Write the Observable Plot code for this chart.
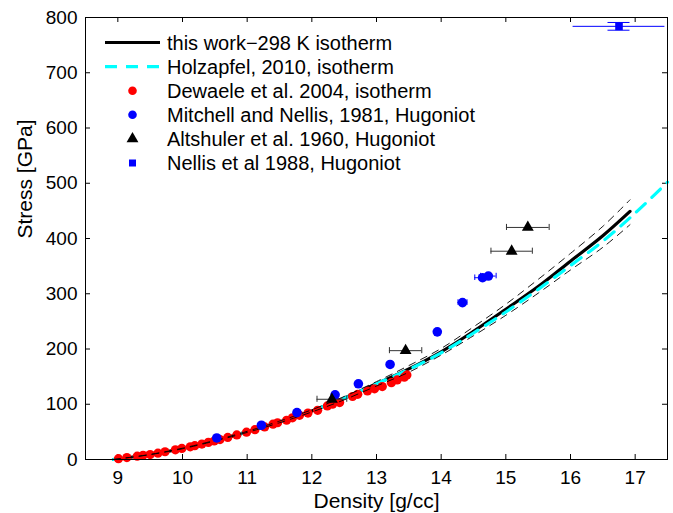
<!DOCTYPE html>
<html>
<head>
<meta charset="utf-8">
<script src="https://cdn.jsdelivr.net/npm/d3@7"></script>
<script src="https://cdn.jsdelivr.net/npm/@observablehq/plot@0.6"></script>
<style>
  html, body { margin: 0; padding: 0; background: white; }
  #wrap { position: relative; width: 673px; height: 513px; font-family: 'Liberation Sans', Arial, Helvetica, sans-serif; }
  #legend { position: absolute; left: 0; top: 0; }
</style>
</head>
<body>
<div id="wrap"></div>
<script>
// ---- Data ----
const xTicks = [9, 10, 11, 12, 13, 14, 15, 16, 17];
const yTicks = [0, 100, 200, 300, 400, 500, 600, 700, 800];

// this work - 298 K isotherm
const workDensity = [8.93, 9.0, 9.5, 10.0, 10.5, 11.0, 11.5, 12.0, 12.5, 13.0, 13.5, 14.0, 14.5, 15.0, 15.5, 16.0, 16.5, 16.92];
const workStress  = [0, 1, 9, 20, 34, 50, 68, 88, 111, 137, 164, 195, 232, 272, 313, 359, 405, 449];
const workUpper   = [0, 1, 9.2, 20.5, 34.6, 51, 69.5, 90, 114, 141, 170, 201, 240, 281, 326, 373, 422, 470];
const workLower   = [0, 1, 8.8, 19.5, 33.4, 49, 66.5, 86, 108, 133, 158, 189, 224, 261, 301, 343, 384, 425];

// Holzapfel 2010 isotherm
const holzDensity = [8.93, 9.0, 9.5, 10.0, 10.5, 11.0, 11.5, 12.0, 12.5, 13.0, 13.5, 14.0, 14.5, 15.0, 15.5, 16.0, 16.5, 17.0, 17.5];
const holzStress  = [0, 1, 9, 20, 34, 50, 68, 88, 111, 137, 163, 193, 229, 267, 308, 351, 395, 446, 502];

// Dewaele et al. 2004 isotherm
const dewDensity = [9.01, 9.14, 9.30, 9.39, 9.50, 9.62, 9.73, 9.89, 9.99, 10.12, 10.19, 10.30, 10.40, 10.49, 10.58, 10.70, 10.84, 10.99, 11.12, 11.27, 11.40, 11.47, 11.61, 11.70, 11.81, 11.94, 12.09, 12.24, 12.32, 12.43, 12.63, 12.71, 12.86, 12.97, 13.09, 13.23, 13.32, 13.43, 13.47];
const dewStress  = [1.5, 3.5, 6, 7.5, 9, 11.5, 14, 17.5, 20, 23, 25, 28, 31, 33.5, 36, 40, 44.5, 49.5, 54, 59, 64, 66.5, 71, 75.5, 80, 84, 89, 97, 100, 103, 114, 118, 124, 128, 132, 139, 144, 149, 153];

// Mitchell and Nellis 1981 Hugoniot
const mnDensity    = [10.53, 11.22, 11.77, 12.36, 12.72, 13.21, 13.94, 14.33, 14.64, 14.73];
const mnStress     = [39, 62, 85, 117, 137, 172, 231, 284, 329, 332];
const mnDensityErr = [0, 0, 0, 0, 0, 0, 0, 0.07, 0.12, 0.12];

// Altshuler et al. 1960 Hugoniot
const altDensity    = [12.31, 13.45, 15.09, 15.34];
const altStress     = [109, 197, 377, 420];
const altDensityErr = [0.23, 0.25, 0.32, 0.33];

// Nellis et al 1988 Hugoniot
const nelDensity    = [16.75];
const nelStress     = [784];
const nelDensityErr = [0.71];
const nelStressErr  = [7];

const legendLabels = [
  "this work\u2212298 K isotherm",
  "Holzapfel, 2010, isotherm",
  "Dewaele et al. 2004, isotherm",
  "Mitchell and Nellis, 1981, Hugoniot",
  "Altshuler et al. 1960, Hugoniot",
  "Nellis et al 1988, Hugoniot"
];

// ---- Build tables ----
const zip = (xs, ys) => xs.map((x, i) => ({x, y: ys[i]}));
const work = zip(workDensity, workStress);
const upper = zip(workDensity, workUpper);
const lower = zip(workDensity, workLower);
const holz = zip(holzDensity, holzStress);
const dew = zip(dewDensity, dewStress);
const mn = mnDensity.map((x, i) => ({x, y: mnStress[i], e: mnDensityErr[i]}));
const mnErr = mn.filter(d => d.e > 0);
const alt = altDensity.map((x, i) => ({x, y: altStress[i], e: altDensityErr[i]}));
const nel = nelDensity.map((x, i) => ({x, y: nelStress[i], e: nelDensityErr[i], ey: nelStressErr[i]}));

const W = 673, H = 513;
const mL = 85, mR = 6, mT = 17, mB = 54;
const innerW = W - mL - mR, innerH = H - mT - mB;
const tick = 5;
const RED = "#ff0000", BLUE = "#0000ff", CYAN = "#00ffff";

const chart = Plot.plot({
  width: W, height: H,
  marginLeft: mL, marginRight: mR, marginTop: mT, marginBottom: mB,
  style: {fontFamily: "'Liberation Sans', Arial, Helvetica, sans-serif", fontSize: "19px", color: "black", background: "white"},
  x: {domain: [8.5, 17.5], ticks: xTicks, tickSize: 0, tickPadding: 11, label: null, tickFormat: d => String(d)},
  y: {domain: [0, 800], ticks: yTicks, tickSize: 0, tickPadding: 8, label: null, tickFormat: d => String(d)},
  marks: [
    // inward tick marks on all four sides
    Plot.ruleX(xTicks, {x: d => d, stroke: "black", strokeWidth: 1, insetTop: innerH - tick}),
    Plot.ruleX(xTicks, {x: d => d, stroke: "black", strokeWidth: 1, insetBottom: innerH - tick}),
    Plot.ruleY(yTicks, {y: d => d, stroke: "black", strokeWidth: 1, insetRight: innerW - tick}),
    Plot.ruleY(yTicks, {y: d => d, stroke: "black", strokeWidth: 1, insetLeft: innerW - tick}),

    // curves
    Plot.line(work, {x: "x", y: "y", stroke: "black", strokeWidth: 3.2, curve: "catmull-rom"}),
    Plot.line(holz, {x: "x", y: "y", stroke: CYAN, strokeWidth: 3.2, strokeDasharray: "12,9", curve: "catmull-rom"}),

    // Dewaele
    Plot.dot(dew, {x: "x", y: "y", r: 4.6, fill: RED, stroke: "none"}),

    // uncertainty bounds
    Plot.line(upper, {x: "x", y: "y", stroke: "black", strokeWidth: 0.9, strokeDasharray: "7,6", curve: "catmull-rom"}),
    Plot.line(lower, {x: "x", y: "y", stroke: "black", strokeWidth: 0.9, strokeDasharray: "7,6", curve: "catmull-rom"}),

    // Mitchell & Nellis
    Plot.ruleY(mnErr, {y: "y", x1: d => d.x - d.e, x2: d => d.x + d.e, stroke: BLUE, strokeWidth: 1}),
    Plot.ruleX(mnErr, {x: d => d.x - d.e, y1: d => d.y - 5, y2: d => d.y + 5, stroke: BLUE, strokeWidth: 1}),
    Plot.ruleX(mnErr, {x: d => d.x + d.e, y1: d => d.y - 5, y2: d => d.y + 5, stroke: BLUE, strokeWidth: 1}),
    Plot.dot(mn, {x: "x", y: "y", r: 4.8, fill: BLUE, stroke: "none"}),

    // Altshuler
    Plot.ruleY(alt, {y: "y", x1: d => d.x - d.e, x2: d => d.x + d.e, stroke: "#333", strokeWidth: 1}),
    Plot.ruleX(alt, {x: d => d.x - d.e, y1: d => d.y - 5.5, y2: d => d.y + 5.5, stroke: "#333", strokeWidth: 1}),
    Plot.ruleX(alt, {x: d => d.x + d.e, y1: d => d.y - 5.5, y2: d => d.y + 5.5, stroke: "#333", strokeWidth: 1}),
    Plot.dot(alt, {x: "x", y: "y", r: 4.4, symbol: "triangle", fill: "black", stroke: "none"}),

    // Nellis 1988
    Plot.ruleY(nel, {y: "y", x1: d => d.x - d.e, x2: d => d.x + d.e, stroke: BLUE, strokeWidth: 1}),
    Plot.ruleX(nel, {x: "x", y1: d => d.y - d.ey, y2: d => d.y + d.ey, stroke: BLUE, strokeWidth: 1}),
    Plot.ruleY(nel, {y: d => d.y - d.ey, x1: d => d.x - 0.17, x2: d => d.x + 0.17, stroke: BLUE, strokeWidth: 1}),
    Plot.ruleY(nel, {y: d => d.y + d.ey, x1: d => d.x - 0.17, x2: d => d.x + 0.17, stroke: BLUE, strokeWidth: 1}),
    Plot.dot(nel, {x: "x", y: "y", r: 4.3, symbol: "square", fill: BLUE, stroke: "none"}),

    Plot.frame({stroke: "black", strokeWidth: 1}),

    // axis titles
    Plot.text(["Density [g/cc]"], {text: d => d, frameAnchor: "bottom", lineAnchor: "middle", dy: 42, fontSize: 21, fill: "black"}),
    Plot.text(["Stress [GPa]"], {text: d => d, frameAnchor: "left", lineAnchor: "middle", dx: -60, rotate: -90, fontSize: 21, fill: "black"})
  ]
});

const wrap = document.getElementById("wrap");
wrap.appendChild(chart);

// ---- Legend (overlay) ----
const legend = d3.select(wrap).append("svg")
  .attr("id", "legend").attr("width", W).attr("height", 190)
  .style("font-family", "'Liberation Sans', Arial, Helvetica, sans-serif");
const row0 = 42.5, step = 24.1, lx1 = 105, lx2 = 160, mx = 132.5, tx = 167;
legendLabels.forEach((lab, i) => {
  const y = row0 + i * step;
  const g = legend.append("g");
  if (i === 0) g.append("line").attr("x1", lx1).attr("x2", lx2).attr("y1", y).attr("y2", y).attr("stroke", "black").attr("stroke-width", 3.2);
  if (i === 1) g.append("line").attr("x1", lx1).attr("x2", lx2).attr("y1", y).attr("y2", y).attr("stroke", CYAN).attr("stroke-width", 3.2).attr("stroke-dasharray", "12,9");
  if (i === 2) g.append("circle").attr("cx", mx).attr("cy", y).attr("r", 4.3).attr("fill", RED);
  if (i === 3) g.append("circle").attr("cx", mx).attr("cy", y).attr("r", 4.3).attr("fill", BLUE);
  if (i === 4) g.append("path").attr("transform", `translate(${mx},${y})`).attr("d", d3.symbol(d3.symbolTriangle, 4.4 * 4.4 * Math.PI)()).attr("fill", "black");
  if (i === 5) g.append("rect").attr("x", mx - 3.5).attr("y", y - 3.5).attr("width", 7).attr("height", 7).attr("fill", BLUE);
  g.append("text").attr("x", tx).attr("y", y).attr("dy", "0.36em").attr("font-size", 20).attr("fill", "black").text(lab);
});
</script>
</body>
</html>
